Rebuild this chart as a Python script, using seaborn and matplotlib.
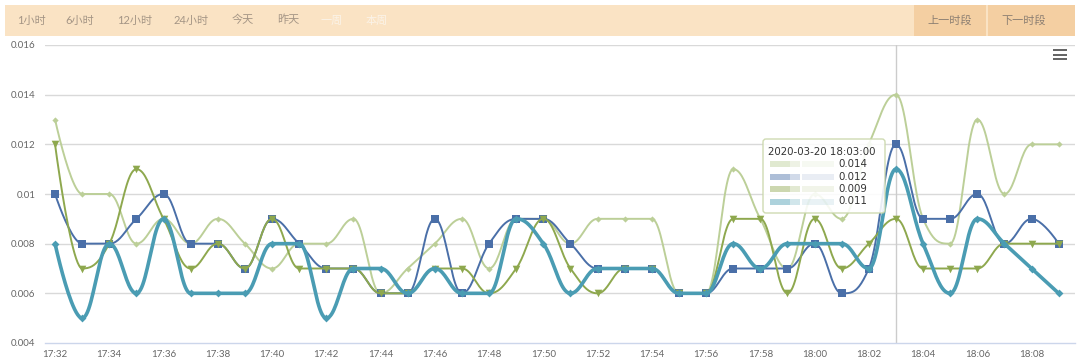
import numpy as np
import pandas as pd
import matplotlib
matplotlib.use("Agg")
import matplotlib.pyplot as plt
import seaborn as sns
from matplotlib.patches import Rectangle, FancyBboxPatch

sns.set_style("white")
plt.rcParams['font.family'] = ['Lato', 'Noto Sans CJK SC', 'DejaVu Sans']

# ---------------------------------
# DATA (one value per minute, 17:32 .. 18:09)
# ---------------------------------

tick_labels = ["17:32", "17:34", "17:36", "17:38", "17:40", "17:42", "17:44",
               "17:46", "17:48", "17:50", "17:52", "17:54", "17:56", "17:58",
               "18:00", "18:02", "18:04", "18:06", "18:08"]

series_a = [0.013, 0.010, 0.010, 0.008, 0.009, 0.008, 0.009, 0.008, 0.007, 0.008,
            0.008, 0.009, 0.006, 0.007, 0.008, 0.009, 0.007, 0.009, 0.009, 0.008,
            0.009, 0.009, 0.009, 0.006, 0.006, 0.011, 0.009, 0.007, 0.010, 0.009,
            0.012, 0.014, 0.009, 0.008, 0.013, 0.010, 0.012, 0.012]
series_b = [0.010, 0.008, 0.008, 0.009, 0.010, 0.008, 0.008, 0.007, 0.009, 0.008,
            0.007, 0.007, 0.006, 0.006, 0.009, 0.006, 0.008, 0.009, 0.009, 0.008,
            0.007, 0.007, 0.007, 0.006, 0.006, 0.007, 0.007, 0.007, 0.008, 0.006,
            0.007, 0.012, 0.009, 0.009, 0.010, 0.008, 0.009, 0.008]
series_c = [0.012, 0.007, 0.008, 0.011, 0.009, 0.007, 0.008, 0.007, 0.009, 0.007,
            0.007, 0.007, 0.006, 0.006, 0.007, 0.007, 0.006, 0.007, 0.009, 0.007,
            0.006, 0.007, 0.007, 0.006, 0.006, 0.009, 0.009, 0.006, 0.009, 0.007,
            0.008, 0.009, 0.007, 0.007, 0.007, 0.008, 0.008, 0.008]
series_d = [0.008, 0.005, 0.008, 0.006, 0.009, 0.006, 0.006, 0.006, 0.008, 0.008,
            0.005, 0.007, 0.007, 0.006, 0.007, 0.006, 0.006, 0.009, 0.008, 0.006,
            0.007, 0.007, 0.007, 0.006, 0.006, 0.008, 0.007, 0.008, 0.008, 0.008,
            0.007, 0.011, 0.008, 0.006, 0.009, 0.008, 0.007, 0.006]

header_tabs = ["1小时", "6小时", "12小时", "24小时", "今天", "昨天", "一周", "本周"]
header_buttons = ["上一时段", "下一时段"]
tooltip_title = "2020-03-20 18:03:00"
hover_index = 31

col_a = "#bccf98"
col_b = "#4a6fa8"
col_c = "#8ea84e"
col_d = "#4a9cb3"

# ---------------------------------
# SPLINE (highcharts-like smoothing)
# ---------------------------------

def spline(xs, ys, smoothing=1.5, steps=24):
    n = len(xs)
    denom = smoothing + 1
    right = [None] * n
    out_x, out_y = [xs[0]], [ys[0]]
    t = np.linspace(0, 1, steps)[1:]
    for i in range(n):
        x, y = xs[i], ys[i]
        lc = (x, y)
        if 0 < i < n - 1:
            lx, ly = xs[i - 1], ys[i - 1]
            nx, ny = xs[i + 1], ys[i + 1]
            lcx = (smoothing * x + lx) / denom
            lcy = (smoothing * y + ly) / denom
            rcx = (smoothing * x + nx) / denom
            rcy = (smoothing * y + ny) / denom
            corr = (rcy - lcy) * (rcx - x) / (rcx - lcx) + y - rcy
            lcy += corr
            rcy += corr
            if lcy > ly and lcy > y:
                lcy = max(ly, y); rcy = 2 * y - lcy
            elif lcy < ly and lcy < y:
                lcy = min(ly, y); rcy = 2 * y - lcy
            if rcy > ny and rcy > y:
                rcy = max(ny, y); lcy = 2 * y - rcy
            elif rcy < ny and rcy < y:
                rcy = min(ny, y); lcy = 2 * y - rcy
            lc = (lcx, lcy)
            right[i] = (rcx, rcy)
        if i > 0:
            p0 = (xs[i - 1], ys[i - 1])
            c1 = right[i - 1] if right[i - 1] is not None else p0
            c2 = lc
            bx = ((1 - t) ** 3 * p0[0] + 3 * (1 - t) ** 2 * t * c1[0]
                  + 3 * (1 - t) * t ** 2 * c2[0] + t ** 3 * x)
            by = ((1 - t) ** 3 * p0[1] + 3 * (1 - t) ** 2 * t * c1[1]
                  + 3 * (1 - t) * t ** 2 * c2[1] + t ** 3 * y)
            out_x.extend(bx)
            out_y.extend(by)
    return np.array(out_x), np.array(out_y)

# ---------------------------------
# FIGURE
# ---------------------------------

W, H = 1080, 362
fig = plt.figure(figsize=(W / 100, H / 100), dpi=100)
fig.patch.set_facecolor("white")

L, R, T, B = 45, 1075, 45, 343
ax = fig.add_axes([L / W, 1 - B / H, (R - L) / W, (B - T) / H])

minutes = np.arange(len(series_a))

series = [
    (series_a, col_a, 1.4, "D", 10),
    (series_b, col_b, 1.4, "s", 30),
    (series_c, col_c, 1.4, "v", 30),
    (series_d, col_d, 2.6, "D", 16),
]

for k, (vals, col, lw, mk, ms) in enumerate(series):
    sx, sy = spline(list(minutes.astype(float)), list(vals))
    curve = pd.DataFrame({"x": sx, "y": sy})
    sns.lineplot(data=curve, x="x", y="y", sort=False, estimator=None,
                 color=col, linewidth=lw, ax=ax, zorder=3 + k)
    pts = pd.DataFrame({"x": minutes, "y": vals})
    sns.scatterplot(data=pts, x="x", y="y", marker=mk, s=ms, color=col,
                    linewidth=0, ax=ax, zorder=3.5 + k)

ax.set_xlim(-0.37, len(minutes) - 1 + 0.6)
ax.set_ylim(0.004, 0.016)
yt = [0.004, 0.006, 0.008, 0.01, 0.012, 0.014, 0.016]
ax.set_yticks(yt)
ax.set_yticklabels(["0.004", "0.006", "0.008", "0.01", "0.012", "0.014", "0.016"])
ax.set_xticks(minutes[::2])
ax.set_xticklabels(tick_labels)
ax.set_xlabel("")
ax.set_ylabel("")

for v in yt[1:]:
    ax.axhline(v, color="#d9d9d9", lw=1, zorder=1)
ax.axvline(hover_index, color="#cccccc", lw=1, zorder=2)

for s in ["top", "right", "left"]:
    ax.spines[s].set_visible(False)
ax.spines["bottom"].set_color("#ccd6eb")
ax.spines["bottom"].set_linewidth(1)
ax.tick_params(axis="x", colors="#ccd6eb", length=4, width=1, pad=1,
               labelcolor="#666666", labelsize=7)
ax.tick_params(axis="y", length=0, pad=7, labelcolor="#666666", labelsize=7)
ax.set_facecolor("white")

# ---------------------------------
# OVERLAY: header bar, tooltip, menu icon
# ---------------------------------

ov = fig.add_axes([0, 0, 1, 1], zorder=10)
ov.set_xlim(0, W)
ov.set_ylim(H, 0)
ov.axis("off")
ov.patch.set_alpha(0)

ov.add_patch(Rectangle((5, 5), 1070, 31, facecolor="#fae3c4", edgecolor="none"))
ov.add_patch(Rectangle((914, 5), 72, 31, facecolor="#f4cfa2", edgecolor="none"))
ov.add_patch(Rectangle((988, 5), 87, 31, facecolor="#f4cfa2", edgecolor="none"))

tab_x = [31, 80, 135, 191, 243, 288, 332, 377]
for i, (lab, x) in enumerate(zip(header_tabs, tab_x)):
    c = "#fbf3e8" if i >= 6 else "#a49585"
    ov.text(x, 20, lab, ha="center", va="center", fontsize=8, color=c)
for lab, x in zip(header_buttons, [950, 1024]):
    ov.text(x, 20, lab, ha="center", va="center", fontsize=8, color="#8c7f72")

# menu icon
for yy in [49, 53.5, 58]:
    ov.add_patch(Rectangle((1053, yy), 14, 2.2, facecolor="#666666", edgecolor="none"))

# tooltip
ov.add_patch(FancyBboxPatch((763, 139), 122, 74, boxstyle="round,pad=0,rounding_size=3",
                            facecolor="white", alpha=0.88, edgecolor="#c8d6a8", lw=1))
ov.text(768, 152, tooltip_title, ha="left", va="center", fontsize=7.4,
        color="#333333", family="DejaVu Sans")
tip_vals = [series_a[hover_index], series_b[hover_index],
            series_c[hover_index], series_d[hover_index]]
for j, (v, col) in enumerate(zip(tip_vals, [col_a, col_b, col_c, col_d])):
    yy = 164 + j * 12.5
    ov.add_patch(Rectangle((770, yy - 3), 20, 6, facecolor=col, alpha=0.45, edgecolor="none"))
    ov.add_patch(Rectangle((790, yy - 3), 10, 6, facecolor=col, alpha=0.25, edgecolor="none"))
    ov.add_patch(Rectangle((802, yy - 3), 32, 6, facecolor=col, alpha=0.12, edgecolor="none"))
    ov.text(838, yy, f"{v:.3f}", ha="left", va="center", fontsize=7.4,
            color="#333333", family="DejaVu Sans")

fig.savefig("out.png", dpi=100, facecolor="white")
